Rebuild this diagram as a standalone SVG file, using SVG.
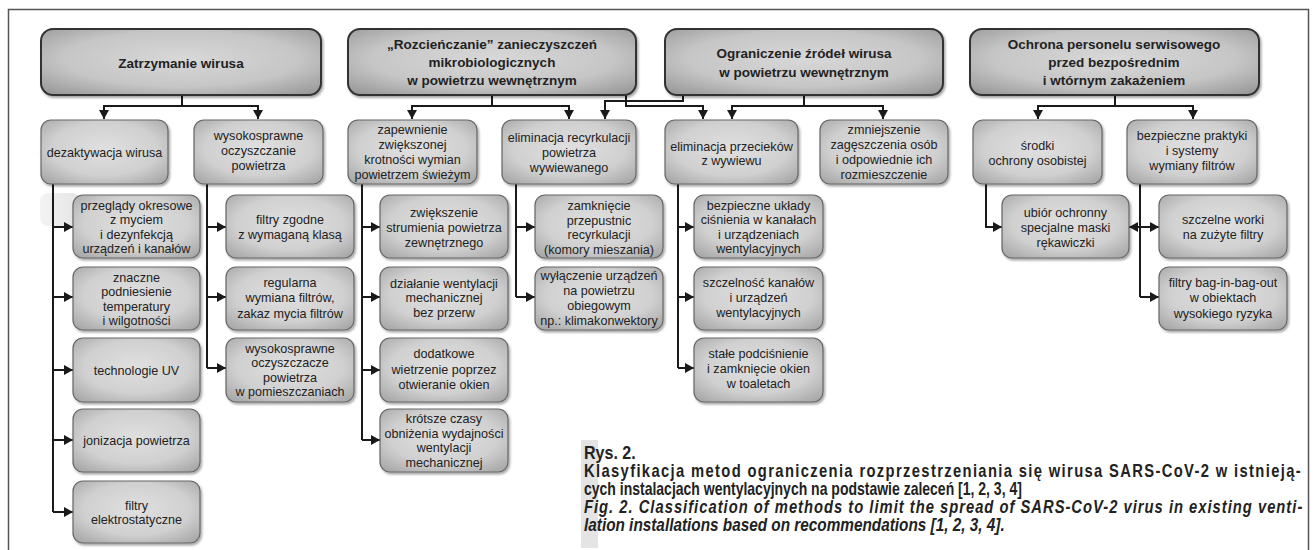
<svg xmlns="http://www.w3.org/2000/svg" width="1316" height="550" viewBox="0 0 1316 550">
<defs>
<radialGradient id="gf" cx="50%" cy="45%" r="70%">
<stop offset="0" stop-color="#e0e0e0"/>
<stop offset="0.6" stop-color="#d0d0d0"/>
<stop offset="1" stop-color="#a6a6a6"/>
</radialGradient>
<radialGradient id="gt" cx="50%" cy="45%" r="70%">
<stop offset="0" stop-color="#d8d8d8"/>
<stop offset="0.6" stop-color="#c6c6c6"/>
<stop offset="1" stop-color="#999999"/>
</radialGradient>
<linearGradient id="band" x1="0" y1="0" x2="1" y2="0">
<stop offset="0" stop-color="#f4f4f4"/>
<stop offset="1" stop-color="#e4e4e4"/>
</linearGradient>
<filter id="sh" x="-10%" y="-10%" width="125%" height="135%">
<feDropShadow dx="1.5" dy="2" stdDeviation="1.2" flood-color="#000" flood-opacity="0.35"/>
</filter>
<marker id="ar" viewBox="0 0 9 10" markerUnits="userSpaceOnUse" markerWidth="9" markerHeight="10" refX="9" refY="5" orient="auto">
<path d="M0,0 L9,5 L0,10 z" fill="#1a1a1a"/>
</marker>
<style>
.top{fill:url(#gt);stroke:#333;stroke-width:2;filter:url(#sh)}
.box{fill:url(#gf);stroke:#666;stroke-width:1.2;filter:url(#sh)}
.h{font-family:"Liberation Sans",Arial,sans-serif;font-weight:bold;font-size:13.5px;fill:#222;text-anchor:middle}
.t{font-family:"Liberation Sans",Arial,sans-serif;font-size:12.6px;fill:#222;text-anchor:middle}
.c{fill:none;stroke:#1a1a1a;stroke-width:2}
.ca{fill:none;stroke:#1a1a1a;stroke-width:2;marker-end:url(#ar)}
.cap{font-family:"Liberation Sans",Arial,sans-serif;font-weight:bold;font-size:18px;fill:#222}
.capi{font-family:"Liberation Sans",Arial,sans-serif;font-weight:bold;font-style:italic;font-size:18px;fill:#222}
</style>
</defs>
<rect x="0" y="0" width="1316" height="550" fill="#fff"/>
<rect x="8.5" y="9.5" width="1300" height="600" fill="none" stroke="#555" stroke-width="1.5"/>
<rect x="40" y="193" width="40" height="33" rx="8" fill="url(#band)"/>
<rect x="581" y="440" width="17" height="108" fill="#e4e4e4"/>

<g id="connectors">
<path class="c" d="M182,95 V106"/>
<path class="ca" d="M182,106 H104 V119"/>
<path class="ca" d="M182,106 H258 V119"/>
<path class="c" d="M492,95 V106"/>
<path class="ca" d="M492,106 H412 V119"/>
<path class="ca" d="M492,106 H569 V119"/>
<path class="ca" d="M626,95 V106 H703 V119"/>
<path class="ca" d="M683,95 V101 H605 V119"/>
<path class="c" d="M804,95 V106"/>
<path class="ca" d="M804,106 H732 V119"/>
<path class="ca" d="M804,106 H883 V119"/>
<path class="c" d="M1115,95 V106"/>
<path class="ca" d="M1115,106 H1038 V119"/>
<path class="ca" d="M1115,106 H1193 V119"/>
<path class="c" d="M53,184 V512"/>
<path class="ca" d="M53,227 H73"/>
<path class="ca" d="M53,297 H73"/>
<path class="ca" d="M53,370 H73"/>
<path class="ca" d="M53,440 H73"/>
<path class="ca" d="M53,512 H73"/>
<path class="c" d="M207,184 V368"/>
<path class="ca" d="M207,227 H226"/>
<path class="ca" d="M207,297 H226"/>
<path class="ca" d="M207,368 H226"/>
<path class="c" d="M362,184 V440"/>
<path class="ca" d="M362,227 H380"/>
<path class="ca" d="M362,297 H380"/>
<path class="ca" d="M362,370 H380"/>
<path class="ca" d="M362,440 H380"/>
<path class="c" d="M516,184 V297"/>
<path class="ca" d="M516,227 H535"/>
<path class="ca" d="M516,297 H535"/>
<path class="c" d="M678,184 V368"/>
<path class="ca" d="M678,227 H694"/>
<path class="ca" d="M678,297 H694"/>
<path class="ca" d="M678,368 H694"/>
<path class="ca" d="M986,184 V227 H1002"/>
<path class="c" d="M1140,184 V297"/>
<path class="ca" d="M1140,227 H1159"/>
<path class="ca" d="M1140,297 H1159"/>
<path class="ca" d="M1140,227 H1129"/>
</g>

<g id="n1"><rect class="top" x="41" y="29" width="280" height="66" rx="12"/>
<text class="h" x="181" y="68">Zatrzymanie wirusa</text></g>
<g id="n2"><rect class="top" x="348" y="29" width="288" height="66" rx="12"/>
<text class="h"><tspan x="492" y="49">„Rozcieńczanie” zanieczyszczeń</tspan><tspan x="492" y="67">mikrobiologicznych</tspan><tspan x="492" y="85">w powietrzu wewnętrznym</tspan></text></g>
<g id="n3"><rect class="top" x="665" y="29" width="278" height="66" rx="12"/>
<text class="h"><tspan x="804" y="58">Ograniczenie źródeł wirusa</tspan><tspan x="804" y="77">w powietrzu wewnętrznym</tspan></text></g>
<g id="n4"><rect class="top" x="970" y="29" width="289" height="66" rx="12"/>
<text class="h"><tspan x="1114" y="49">Ochrona personelu serwisowego</tspan><tspan x="1114" y="67">przed bezpośrednim</tspan><tspan x="1114" y="85">i wtórnym zakażeniem</tspan></text></g>

<g id="n11"><rect class="box" x="41" y="120" width="127" height="64" rx="10"/>
<text class="t" x="104.5" y="156.5">dezaktywacja wirusa</text></g>
<g id="n12"><rect class="box" x="194" y="120" width="129" height="64" rx="10"/>
<text class="t"><tspan x="258.5" y="139.5">wysokosprawne</tspan><tspan x="258.5" y="154.5">oczyszczanie</tspan><tspan x="258.5" y="170">powietrza</tspan></text></g>
<g id="n21"><rect class="box" x="348" y="120" width="129" height="64" rx="10"/>
<text class="t"><tspan x="412.5" y="133.5">zapewnienie</tspan><tspan x="412.5" y="148.5">zwiększonej</tspan><tspan x="412.5" y="163.5">krotności wymian</tspan><tspan x="412.5" y="178.5">powietrzem świeżym</tspan></text></g>
<g id="n22"><rect class="box" x="502" y="120" width="134" height="64" rx="10"/>
<text class="t"><tspan x="569" y="141.5">eliminacja recyrkulacji</tspan><tspan x="569" y="156.5">powietrza</tspan><tspan x="569" y="171.5">wywiewanego</tspan></text></g>
<g id="n31"><rect class="box" x="665" y="120" width="133" height="64" rx="10"/>
<text class="t"><tspan x="731.5" y="150.5">eliminacja przecieków</tspan><tspan x="731.5" y="165">z wywiewu</tspan></text></g>
<g id="n32"><rect class="box" x="820" y="120" width="128" height="64" rx="10"/>
<text class="t"><tspan x="884" y="133.5">zmniejszenie</tspan><tspan x="884" y="148.5">zagęszczenia osób</tspan><tspan x="884" y="163.5">i odpowiednie ich</tspan><tspan x="884" y="178.5">rozmieszczenie</tspan></text></g>
<g id="n41"><rect class="box" x="973" y="120" width="129" height="64" rx="10"/>
<text class="t"><tspan x="1037.5" y="149.5">środki</tspan><tspan x="1037.5" y="164.5">ochrony osobistej</tspan></text></g>
<g id="n42"><rect class="box" x="1127" y="120" width="130" height="64" rx="10"/>
<text class="t"><tspan x="1192" y="139.5">bezpieczne praktyki</tspan><tspan x="1192" y="154.5">i systemy</tspan><tspan x="1192" y="170">wymiany filtrów</tspan></text></g>

<g id="n111"><rect class="box" x="73" y="195" width="127" height="63" rx="10"/>
<text class="t"><tspan x="136.5" y="209.5">przeglądy okresowe</tspan><tspan x="136.5" y="224">z myciem</tspan><tspan x="136.5" y="238.5">i dezynfekcją</tspan><tspan x="136.5" y="253">urządzeń i kanałów</tspan></text></g>
<g id="n112"><rect class="box" x="73" y="267" width="127" height="63" rx="10"/>
<text class="t"><tspan x="136.5" y="281.5">znaczne</tspan><tspan x="136.5" y="296">podniesienie</tspan><tspan x="136.5" y="310.5">temperatury</tspan><tspan x="136.5" y="325">i wilgotności</tspan></text></g>
<g id="n113"><rect class="box" x="73" y="338" width="127" height="64" rx="10"/>
<text class="t" x="136.5" y="374.5">technologie UV</text></g>
<g id="n114"><rect class="box" x="73" y="409" width="127" height="63" rx="10"/>
<text class="t" x="136.5" y="445">jonizacja powietrza</text></g>
<g id="n115"><rect class="box" x="73" y="481" width="127" height="62" rx="10"/>
<text class="t"><tspan x="136.5" y="509.5">filtry</tspan><tspan x="136.5" y="524">elektrostatyczne</tspan></text></g>

<g id="n121"><rect class="box" x="226" y="195" width="128" height="63" rx="10"/>
<text class="t"><tspan x="290" y="223.5">filtry zgodne</tspan><tspan x="290" y="239">z wymaganą klasą</tspan></text></g>
<g id="n122"><rect class="box" x="226" y="267" width="128" height="63" rx="10"/>
<text class="t"><tspan x="290" y="286.5">regularna</tspan><tspan x="290" y="302">wymiana filtrów,</tspan><tspan x="290" y="317.5">zakaz mycia filtrów</tspan></text></g>
<g id="n123"><rect class="box" x="226" y="338" width="128" height="64" rx="10"/>
<text class="t"><tspan x="290" y="352.5">wysokosprawne</tspan><tspan x="290" y="367">oczyszczacze</tspan><tspan x="290" y="381.5">powietrza</tspan><tspan x="290" y="396">w pomieszczaniach</tspan></text></g>

<g id="n211"><rect class="box" x="380" y="195" width="128" height="63" rx="10"/>
<text class="t"><tspan x="444" y="216.5">zwiększenie</tspan><tspan x="444" y="231.5">strumienia powietrza</tspan><tspan x="444" y="246.5">zewnętrznego</tspan></text></g>
<g id="n212"><rect class="box" x="380" y="267" width="128" height="63" rx="10"/>
<text class="t"><tspan x="444" y="287.5">działanie wentylacji</tspan><tspan x="444" y="302">mechanicznej</tspan><tspan x="444" y="317">bez przerw</tspan></text></g>
<g id="n213"><rect class="box" x="380" y="338" width="128" height="64" rx="10"/>
<text class="t"><tspan x="444" y="358">dodatkowe</tspan><tspan x="444" y="373.5">wietrzenie poprzez</tspan><tspan x="444" y="388.5">otwieranie okien</tspan></text></g>
<g id="n214"><rect class="box" x="380" y="409" width="128" height="63" rx="10"/>
<text class="t"><tspan x="444" y="423">krótsze czasy</tspan><tspan x="444" y="437.5">obniżenia wydajności</tspan><tspan x="444" y="452">wentylacji</tspan><tspan x="444" y="466.5">mechanicznej</tspan></text></g>

<g id="n221"><rect class="box" x="535" y="195" width="128" height="63" rx="10"/>
<text class="t"><tspan x="599" y="210">zamknięcie</tspan><tspan x="599" y="224.5">przepustnic</tspan><tspan x="599" y="239">recyrkulacji</tspan><tspan x="599" y="253.5">(komory mieszania)</tspan></text></g>
<g id="n222"><rect class="box" x="535" y="267" width="128" height="63" rx="10"/>
<text class="t"><tspan x="599" y="280">wyłączenie urządzeń</tspan><tspan x="599" y="294.5">na powietrzu</tspan><tspan x="599" y="309.5">obiegowym</tspan><tspan x="599" y="324.5">np.: klimakonwektory</tspan></text></g>

<g id="n311"><rect class="box" x="694" y="195" width="129" height="63" rx="10"/>
<text class="t"><tspan x="758.5" y="209.5">bezpieczne układy</tspan><tspan x="758.5" y="224">ciśnienia w kanałach</tspan><tspan x="758.5" y="238.5">i urządzeniach</tspan><tspan x="758.5" y="253">wentylacyjnych</tspan></text></g>
<g id="n312"><rect class="box" x="694" y="267" width="129" height="63" rx="10"/>
<text class="t"><tspan x="758.5" y="286.5">szczelność kanałów</tspan><tspan x="758.5" y="301.5">i urządzeń</tspan><tspan x="758.5" y="317">wentylacyjnych</tspan></text></g>
<g id="n313"><rect class="box" x="694" y="338" width="129" height="64" rx="10"/>
<text class="t"><tspan x="758.5" y="357.5">stałe podciśnienie</tspan><tspan x="758.5" y="372.5">i zamknięcie okien</tspan><tspan x="758.5" y="387.5">w toaletach</tspan></text></g>

<g id="n411"><rect class="box" x="1002" y="195" width="127" height="63" rx="10"/>
<text class="t"><tspan x="1065.5" y="217">ubiór ochronny</tspan><tspan x="1065.5" y="231.5">specjalne maski</tspan><tspan x="1065.5" y="246.5">rękawiczki</tspan></text></g>
<g id="n421"><rect class="box" x="1159" y="195" width="128" height="63" rx="10"/>
<text class="t"><tspan x="1223" y="224">szczelne worki</tspan><tspan x="1223" y="239">na zużyte filtry</tspan></text></g>
<g id="n422"><rect class="box" x="1159" y="267" width="128" height="63" rx="10"/>
<text class="t"><tspan x="1223" y="286.5">filtry bag-in-bag-out</tspan><tspan x="1223" y="302">w obiektach</tspan><tspan x="1223" y="317.5">wysokiego ryzyka</tspan></text></g>

<g id="caption" transform="translate(584,0) scale(0.82,1)">
<text class="cap" x="0" y="459" textLength="63" lengthAdjust="spacingAndGlyphs">Rys. 2.</text>
<text class="cap" x="0" y="477" textLength="874" lengthAdjust="spacing">Klasyfikacja metod ograniczenia rozprzestrzeniania się wirusa SARS-CoV-2 w istnieją-</text>
<text class="cap" x="0" y="495" textLength="534" lengthAdjust="spacingAndGlyphs">cych instalacjach wentylacyjnych na podstawie zaleceń [1, 2, 3, 4]</text>
<text class="capi" x="0" y="513" textLength="876" lengthAdjust="spacing">Fig. 2. Classification of methods to limit the spread of SARS-CoV-2 virus in existing venti-</text>
<text class="capi" x="0" y="531" textLength="513" lengthAdjust="spacingAndGlyphs">lation installations based on recommendations [1, 2, 3, 4].</text>
</g>
</svg>
